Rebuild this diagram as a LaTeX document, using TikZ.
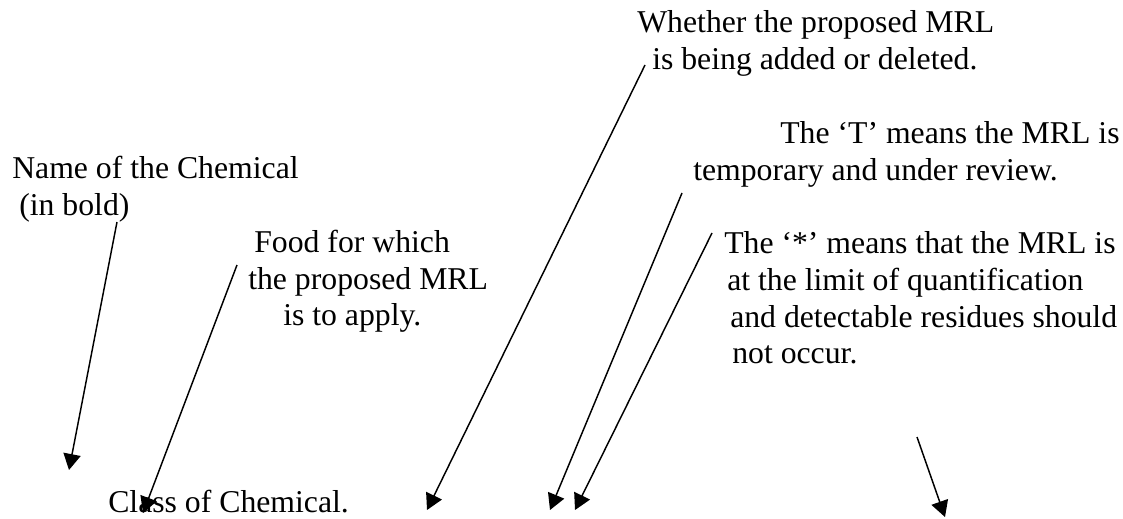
\documentclass[tikz,border=0pt]{standalone}
\usepackage{fontspec}
\setmainfont{Liberation Serif}
\usetikzlibrary{arrows.meta}

\begin{document}
\begin{tikzpicture}[x=0.75pt,y=-0.75pt]
\tikzset{every node/.style={inner sep=0pt, anchor=base west, font=\fontsize{23.8}{27.4}\selectfont},
	pointer/.style={line width=1.1pt, -{Triangle[length=12pt,width=13pt]}}}
\useasboundingbox (0,0) rectangle (1123,518);
\begin{scope}
	% labels
	\node (name1) at (12,178) {Name of the Chemical};
	\node (name2) at (19,215) {(in bold)};
	\node (food1) at (254,252) {Food for which};
	\node (food2) at (248,289) {the proposed MRL};
	\node (food3) at (283,325) {is to apply.};
	\node (add1) at (637,32) {Whether the proposed MRL};
	\node (add2) at (652,69) {is being added or deleted.};
	\node (temp1) at (780,143) {The `T' means the MRL is};
	\node (temp2) at (693,180) {temporary and under review.};
	\node (loq1) at (724,253) {The `*' means that the MRL is};
	\node (loq2) at (727,290) {at the limit of quantification};
	\node (loq3) at (730,327) {and detectable residues should};
	\node (loq4) at (732,363) {not occur.};
	\node (class) at (108,512) {Class of Chemical.};

	% arrow ends
	\coordinate (s1) at (117,222);  \coordinate (e1) at (69,470);
	\coordinate (s2) at (237,265);  \coordinate (e2) at (143,513);
	\coordinate (s3) at (645,65);   \coordinate (e3) at (427,510);
	\coordinate (s4) at (682,193);  \coordinate (e4) at (550,510);
	\coordinate (s5) at (712,233);  \coordinate (e5) at (575,510);
	\coordinate (s6) at (917,437);  \coordinate (e6) at (945,517);

	\draw [pointer] (s1) -- (e1);
	\draw [pointer] (s2) -- (e2);
	\draw [pointer] (s3) -- (e3);
	\draw [pointer] (s4) -- (e4);
	\draw [pointer] (s5) -- (e5);
	\draw [pointer] (s6) -- (e6);
\end{scope}
\end{tikzpicture}
\end{document}
